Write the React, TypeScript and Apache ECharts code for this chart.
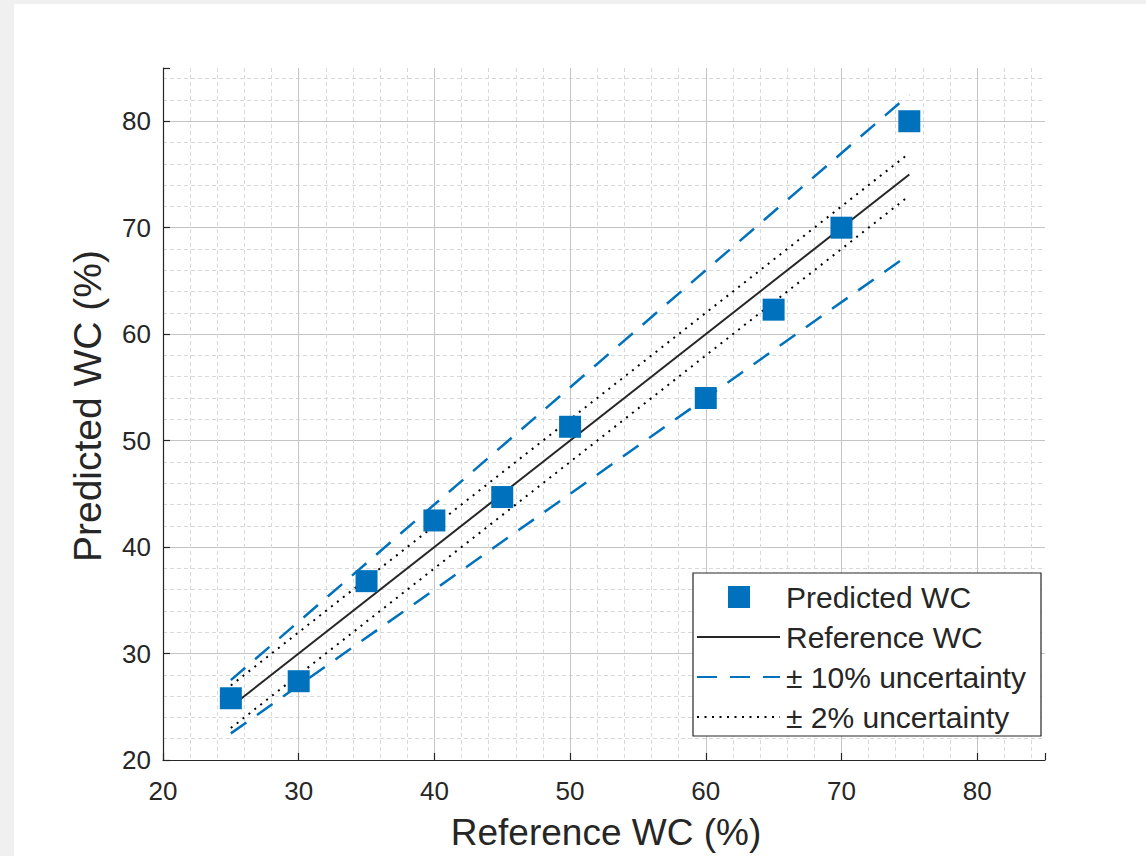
import React, { useEffect, useRef } from "react";
import * as echarts from "echarts";

const referenceWC = [25, 30, 35, 40, 45, 50, 60, 65, 70, 75];
const predictedWC = [25.8, 27.4, 36.8, 42.5, 44.7, 51.3, 54.0, 62.3, 70.0, 80.0];
const lineRangeX = [25, 75];
const pctUncertainty = 0.1;
const absUncertainty = 2;
const axisMin = 20;
const axisMax = 85;
const axisInterval = 10;
const legendLabels = ["Predicted WC", "Reference WC", "\u00b1 10% uncertainty", "\u00b1 2% uncertainty"];

const FONT = "'Liberation Sans', Arial, Helvetica, sans-serif";
const BLUE = "#0072BD";
const DARK = "#262626";

export default function App() {
  const ref = useRef<HTMLDivElement>(null);
  useEffect(() => {
    if (!ref.current) return;
    const chart = echarts.init(ref.current, undefined, { renderer: "svg" });

    const scatterData = referenceWC.map((x, i) => [x, predictedWC[i]]);
    const refLine = lineRangeX.map((x) => [x, x]);
    const up10 = lineRangeX.map((x) => [x, x * (1 + pctUncertainty)]);
    const lo10 = lineRangeX.map((x) => [x, x * (1 - pctUncertainty)]);
    const up2 = lineRangeX.map((x) => [x, x + absUncertainty]);
    const lo2 = lineRangeX.map((x) => [x, x - absUncertainty]);

    const axisCommon = (name: string, isX: boolean) => ({
      type: "value",
      min: axisMin,
      max: axisMax,
      interval: axisInterval,
      name,
      nameLocation: "middle",
      nameGap: isX ? 54 : 56,
      nameTextStyle: {
        fontFamily: FONT,
        fontSize: isX ? 37 : 39,
        color: DARK,
        padding: isX ? [0, 0, 0, 4] : [0, 0, 0, 16],
      },
      axisLine: { show: true, onZero: false, lineStyle: { color: DARK, width: 1.2 } },
      axisTick: { show: true, inside: true, length: 7, lineStyle: { color: DARK, width: 1.2 } },
      axisLabel: {
        fontFamily: FONT,
        fontSize: 26,
        color: DARK,
        margin: isX ? 18 : 12,
        formatter: (v: number) => (v === axisMax ? "" : String(v)),
      },
      splitLine: { show: true, showMaxLine: false, showMinLine: false, lineStyle: { color: "#c4c4c4", width: 1 } },
      minorTick: { show: false, splitNumber: 5 },
      minorSplitLine: { show: true, lineStyle: { color: "#d9d9d9", width: 1, type: [4, 3] } },
    });

    const legX = 693, legY = 573, legW = 348, legH = 163;
    const rowY = [597, 637, 677, 717];
    const iconL = 697, iconR = 780, textX = 786;
    const LZ = 100;

    chart.setOption({
      animation: false,
      backgroundColor: "#f0f0f0",
      grid: { left: 163, top: 68, width: 882, height: 692, outerBoundsMode: "none", containLabel: false },
      xAxis: axisCommon("Reference WC (%)", true),
      yAxis: axisCommon("Predicted WC (%)", false),
      graphic: [
        { type: "rect", z: -10, silent: true, shape: { x: 14, y: 4, width: 1132, height: 852 }, style: { fill: "#ffffff" } },
        { type: "rect", z: LZ, shape: { x: legX, y: legY, width: legW, height: legH }, style: { fill: "#ffffff", stroke: DARK, lineWidth: 1.2 } },
        { type: "rect", z: LZ + 1, shape: { x: 739 - 11, y: rowY[0] - 11, width: 22, height: 22 }, style: { fill: BLUE } },
        { type: "line", z: LZ + 1, shape: { x1: iconL, y1: rowY[1], x2: iconR, y2: rowY[1] }, style: { stroke: DARK, lineWidth: 2 } },
        { type: "line", z: LZ + 1, shape: { x1: iconL, y1: rowY[2], x2: iconR, y2: rowY[2] }, style: { stroke: BLUE, lineWidth: 2.2, lineDash: [20, 13] } },
        { type: "line", z: LZ + 1, shape: { x1: iconL, y1: rowY[3], x2: iconR, y2: rowY[3] }, style: { stroke: "#000000", lineWidth: 2, lineDash: [2, 5.5] } },
        ...legendLabels.map((t, i) => ({
          type: "text",
          z: LZ + 1,
          style: { text: t, x: textX, y: rowY[i], fontFamily: FONT, fontSize: 30, fill: DARK, verticalAlign: "middle", align: "left" },
        })),
      ],
      series: [
        {
          name: "Reference WC",
          type: "line",
          data: refLine,
          symbol: "none",
          lineStyle: { color: DARK, width: 2 },
          z: 3,
        },
        {
          name: "+10%",
          type: "line",
          data: up10,
          symbol: "none",
          lineStyle: { color: BLUE, width: 2.5, type: [19, 13] },
          z: 3,
        },
        {
          name: "-10%",
          type: "line",
          data: lo10,
          symbol: "none",
          lineStyle: { color: BLUE, width: 2.5, type: [19, 13] },
          z: 3,
        },
        {
          name: "+2",
          type: "line",
          data: up2,
          symbol: "none",
          lineStyle: { color: "#000000", width: 2, type: [2, 5.5] },
          z: 3,
        },
        {
          name: "-2",
          type: "line",
          data: lo2,
          symbol: "none",
          lineStyle: { color: "#000000", width: 2, type: [2, 5.5] },
          z: 3,
        },
        {
          name: "Predicted WC",
          type: "scatter",
          data: scatterData,
          symbol: "rect",
          symbolSize: 22,
          itemStyle: { color: BLUE, opacity: 1 },
          z: 5,
        },
      ],
    });
    return () => chart.dispose();
  }, []);
  return <div ref={ref} style={{ position: "absolute", left: 0, top: 0, width: 1146, height: 856 }} />;
}
